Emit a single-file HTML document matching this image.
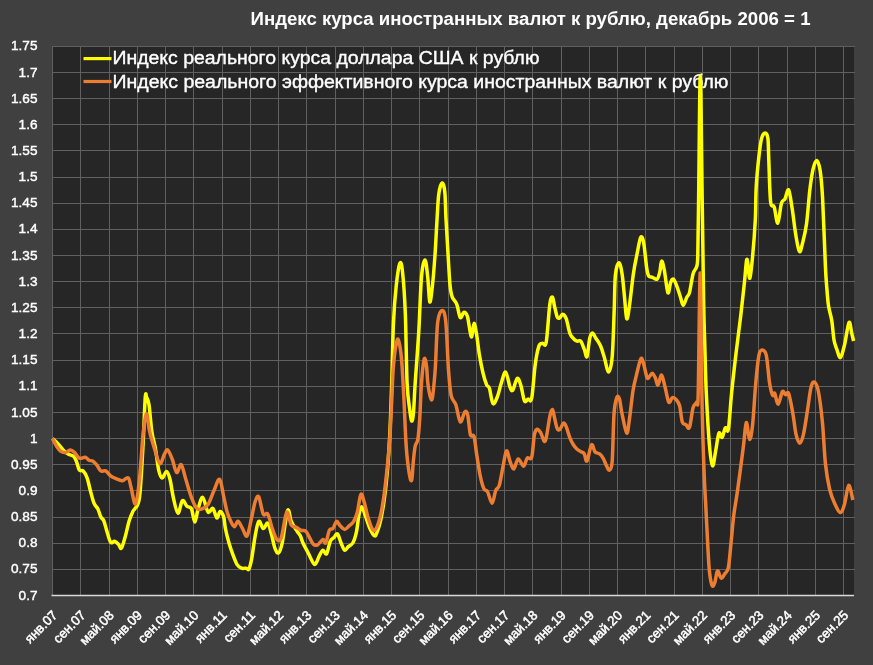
<!DOCTYPE html>
<html><head><meta charset="utf-8"><style>
html,body{margin:0;padding:0;background:#404040;}
svg{display:block;will-change:transform;}
text{font-family:"Liberation Sans",sans-serif;fill:#ffffff;}
</style></head><body>
<svg width="873" height="665" viewBox="0 0 873 665">
<rect x="0" y="0" width="873" height="665" fill="#404040"/>
<rect x="52" y="46" width="802" height="549" fill="#262626"/>
<g stroke="#606060" stroke-width="1" shape-rendering="crispEdges">
<line x1="52.50" y1="46" x2="52.50" y2="595"/>
<line x1="80.75" y1="46" x2="80.75" y2="595"/>
<line x1="109.00" y1="46" x2="109.00" y2="595"/>
<line x1="137.25" y1="46" x2="137.25" y2="595"/>
<line x1="165.50" y1="46" x2="165.50" y2="595"/>
<line x1="193.75" y1="46" x2="193.75" y2="595"/>
<line x1="222.00" y1="46" x2="222.00" y2="595"/>
<line x1="250.25" y1="46" x2="250.25" y2="595"/>
<line x1="278.50" y1="46" x2="278.50" y2="595"/>
<line x1="306.75" y1="46" x2="306.75" y2="595"/>
<line x1="335.00" y1="46" x2="335.00" y2="595"/>
<line x1="363.25" y1="46" x2="363.25" y2="595"/>
<line x1="391.50" y1="46" x2="391.50" y2="595"/>
<line x1="419.75" y1="46" x2="419.75" y2="595"/>
<line x1="448.00" y1="46" x2="448.00" y2="595"/>
<line x1="476.25" y1="46" x2="476.25" y2="595"/>
<line x1="504.50" y1="46" x2="504.50" y2="595"/>
<line x1="532.75" y1="46" x2="532.75" y2="595"/>
<line x1="561.00" y1="46" x2="561.00" y2="595"/>
<line x1="589.25" y1="46" x2="589.25" y2="595"/>
<line x1="617.50" y1="46" x2="617.50" y2="595"/>
<line x1="645.75" y1="46" x2="645.75" y2="595"/>
<line x1="674.00" y1="46" x2="674.00" y2="595"/>
<line x1="702.25" y1="46" x2="702.25" y2="595"/>
<line x1="730.50" y1="46" x2="730.50" y2="595"/>
<line x1="758.75" y1="46" x2="758.75" y2="595"/>
<line x1="787.00" y1="46" x2="787.00" y2="595"/>
<line x1="815.25" y1="46" x2="815.25" y2="595"/>
<line x1="843.50" y1="46" x2="843.50" y2="595"/>
<line x1="52" y1="46.30" x2="855" y2="46.30"/>
<line x1="52" y1="72.45" x2="855" y2="72.45"/>
<line x1="52" y1="98.60" x2="855" y2="98.60"/>
<line x1="52" y1="124.75" x2="855" y2="124.75"/>
<line x1="52" y1="150.90" x2="855" y2="150.90"/>
<line x1="52" y1="177.05" x2="855" y2="177.05"/>
<line x1="52" y1="203.20" x2="855" y2="203.20"/>
<line x1="52" y1="229.35" x2="855" y2="229.35"/>
<line x1="52" y1="255.50" x2="855" y2="255.50"/>
<line x1="52" y1="281.65" x2="855" y2="281.65"/>
<line x1="52" y1="307.80" x2="855" y2="307.80"/>
<line x1="52" y1="333.95" x2="855" y2="333.95"/>
<line x1="52" y1="360.10" x2="855" y2="360.10"/>
<line x1="52" y1="386.25" x2="855" y2="386.25"/>
<line x1="52" y1="412.40" x2="855" y2="412.40"/>
<line x1="52" y1="438.55" x2="855" y2="438.55"/>
<line x1="52" y1="464.70" x2="855" y2="464.70"/>
<line x1="52" y1="490.85" x2="855" y2="490.85"/>
<line x1="52" y1="517.00" x2="855" y2="517.00"/>
<line x1="52" y1="543.15" x2="855" y2="543.15"/>
<line x1="52" y1="569.30" x2="855" y2="569.30"/>
</g>
<line x1="51.5" y1="595.5" x2="854" y2="595.5" stroke="#d9d9d9" stroke-width="1.4"/>
<g font-size="13.6" text-anchor="end" stroke="#ffffff" stroke-width="0.4">
<text x="37.5" y="50.40">1.75</text>
<text x="37.5" y="76.55">1.7</text>
<text x="37.5" y="102.70">1.65</text>
<text x="37.5" y="128.85">1.6</text>
<text x="37.5" y="155.00">1.55</text>
<text x="37.5" y="181.15">1.5</text>
<text x="37.5" y="207.30">1.45</text>
<text x="37.5" y="233.45">1.4</text>
<text x="37.5" y="259.60">1.35</text>
<text x="37.5" y="285.75">1.3</text>
<text x="37.5" y="311.90">1.25</text>
<text x="37.5" y="338.05">1.2</text>
<text x="37.5" y="364.20">1.15</text>
<text x="37.5" y="390.35">1.1</text>
<text x="37.5" y="416.50">1.05</text>
<text x="37.5" y="442.65">1</text>
<text x="37.5" y="468.80">0.95</text>
<text x="37.5" y="494.95">0.9</text>
<text x="37.5" y="521.10">0.85</text>
<text x="37.5" y="547.25">0.8</text>
<text x="37.5" y="573.40">0.75</text>
<text x="37.5" y="599.55">0.7</text>
</g>
<g font-size="13.2" text-anchor="end" stroke="#ffffff" stroke-width="0.5">
<text transform="translate(58.20,616) rotate(-45)" x="0" y="0">янв.07</text>
<text transform="translate(86.45,616) rotate(-45)" x="0" y="0">сен.07</text>
<text transform="translate(114.70,616) rotate(-45)" x="0" y="0">май.08</text>
<text transform="translate(142.95,616) rotate(-45)" x="0" y="0">янв.09</text>
<text transform="translate(171.20,616) rotate(-45)" x="0" y="0">сен.09</text>
<text transform="translate(199.45,616) rotate(-45)" x="0" y="0">май.10</text>
<text transform="translate(227.70,616) rotate(-45)" x="0" y="0">янв.11</text>
<text transform="translate(255.95,616) rotate(-45)" x="0" y="0">сен.11</text>
<text transform="translate(284.20,616) rotate(-45)" x="0" y="0">май.12</text>
<text transform="translate(312.45,616) rotate(-45)" x="0" y="0">янв.13</text>
<text transform="translate(340.70,616) rotate(-45)" x="0" y="0">сен.13</text>
<text transform="translate(368.95,616) rotate(-45)" x="0" y="0">май.14</text>
<text transform="translate(397.20,616) rotate(-45)" x="0" y="0">янв.15</text>
<text transform="translate(425.45,616) rotate(-45)" x="0" y="0">сен.15</text>
<text transform="translate(453.70,616) rotate(-45)" x="0" y="0">май.16</text>
<text transform="translate(481.95,616) rotate(-45)" x="0" y="0">янв.17</text>
<text transform="translate(510.20,616) rotate(-45)" x="0" y="0">сен.17</text>
<text transform="translate(538.45,616) rotate(-45)" x="0" y="0">май.18</text>
<text transform="translate(566.70,616) rotate(-45)" x="0" y="0">янв.19</text>
<text transform="translate(594.95,616) rotate(-45)" x="0" y="0">сен.19</text>
<text transform="translate(623.20,616) rotate(-45)" x="0" y="0">май.20</text>
<text transform="translate(651.45,616) rotate(-45)" x="0" y="0">янв.21</text>
<text transform="translate(679.70,616) rotate(-45)" x="0" y="0">сен.21</text>
<text transform="translate(707.95,616) rotate(-45)" x="0" y="0">май.22</text>
<text transform="translate(736.20,616) rotate(-45)" x="0" y="0">янв.23</text>
<text transform="translate(764.45,616) rotate(-45)" x="0" y="0">сен.23</text>
<text transform="translate(792.70,616) rotate(-45)" x="0" y="0">май.24</text>
<text transform="translate(820.95,616) rotate(-45)" x="0" y="0">янв.25</text>
<text transform="translate(849.20,616) rotate(-45)" x="0" y="0">сен.25</text>
</g>
<text x="250.5" y="25" font-size="18.8" font-weight="bold" textLength="560" lengthAdjust="spacingAndGlyphs">Индекс курса иностранных валют к рублю, декабрь 2006 = 1</text>
<line x1="83.5" y1="58.6" x2="111.5" y2="58.6" stroke="#ffff00" stroke-width="3.2"/>
<line x1="83.5" y1="81.5" x2="111.5" y2="81.5" stroke="#ed7d31" stroke-width="3.2"/>
<g font-size="18" stroke="#ffffff" stroke-width="0.35">
<text x="112.5" y="63.8" textLength="427" lengthAdjust="spacingAndGlyphs">Индекс реального курса доллара США к рублю</text>
<text x="112.5" y="87.5" textLength="616" lengthAdjust="spacingAndGlyphs">Индекс реального эффективного курса иностранных валют к рублю</text>
</g>
<path d="M52.50,438.40 C53.55,439.43 56.93,442.60 58.80,444.60 C60.67,446.60 62.07,448.78 63.70,450.40 C65.33,452.02 66.97,453.32 68.60,454.30 C70.23,455.28 72.20,455.15 73.50,456.30 C74.80,457.45 75.43,458.92 76.40,461.20 C77.37,463.48 78.17,468.37 79.30,470.00 C80.43,471.63 81.90,469.70 83.20,471.00 C84.50,472.30 85.95,474.72 87.10,477.80 C88.25,480.88 88.95,485.27 90.10,489.50 C91.25,493.73 92.70,499.95 94.00,503.20 C95.30,506.45 96.77,506.72 97.90,509.00 C99.03,511.28 99.82,514.93 100.80,516.90 C101.78,518.87 102.82,518.52 103.80,520.80 C104.78,523.08 105.57,527.02 106.70,530.60 C107.83,534.18 109.30,540.52 110.60,542.30 C111.90,544.08 113.20,540.97 114.50,541.30 C115.80,541.63 117.25,543.15 118.40,544.30 C119.55,545.45 120.25,549.52 121.40,548.20 C122.55,546.88 124.00,540.97 125.30,536.40 C126.60,531.83 127.90,525.03 129.20,520.80 C130.50,516.57 132.13,513.03 133.10,511.00 C134.07,508.97 133.93,510.88 135.00,508.60 C136.07,506.32 138.18,507.45 139.50,497.30 C140.82,487.15 141.95,464.25 142.90,447.70 C143.85,431.15 144.57,406.37 145.20,398.00 C145.83,389.63 146.07,396.37 146.70,397.50 C147.33,398.63 148.13,399.07 149.00,404.80 C149.87,410.53 150.85,424.75 151.90,431.90 C152.95,439.05 154.17,441.32 155.30,447.70 C156.43,454.08 157.57,465.13 158.70,470.20 C159.83,475.27 160.78,477.90 162.10,478.10 C163.42,478.30 165.28,471.20 166.60,471.40 C167.92,471.60 168.88,474.98 170.00,479.30 C171.12,483.62 171.98,491.67 173.30,497.30 C174.62,502.93 176.38,512.53 177.90,513.10 C179.42,513.67 180.90,501.83 182.40,500.70 C183.90,499.57 185.40,504.98 186.90,506.30 C188.40,507.62 190.08,505.97 191.40,508.60 C192.72,511.23 193.67,522.10 194.80,522.10 C195.93,522.10 196.88,512.73 198.20,508.60 C199.52,504.47 201.07,496.73 202.70,497.30 C204.33,497.87 206.30,510.13 208.00,512.00 C209.70,513.87 211.42,507.50 212.90,508.50 C214.38,509.50 215.70,517.50 216.90,518.00 C218.10,518.50 218.97,511.67 220.10,511.50 C221.23,511.33 222.82,514.17 223.70,517.00 C224.58,519.83 224.52,524.17 225.40,528.50 C226.28,532.83 227.80,538.78 229.00,543.00 C230.20,547.22 231.25,550.20 232.60,553.80 C233.95,557.40 235.60,562.20 237.10,564.60 C238.60,567.00 240.08,567.60 241.60,568.20 C243.12,568.80 244.98,568.05 246.20,568.20 C247.42,568.35 248.00,570.60 248.90,569.10 C249.80,567.60 250.55,564.75 251.60,559.20 C252.65,553.65 254.00,542.12 255.20,535.80 C256.40,529.48 257.45,522.52 258.80,521.30 C260.15,520.08 261.80,528.20 263.30,528.50 C264.80,528.80 266.45,522.18 267.80,523.10 C269.15,524.02 270.20,529.78 271.40,534.00 C272.60,538.22 273.80,545.25 275.00,548.40 C276.20,551.55 277.40,553.80 278.60,552.90 C279.80,552.00 280.70,550.07 282.20,543.00 C283.70,535.93 286.10,514.12 287.60,510.50 C289.10,506.88 289.83,518.15 291.20,521.30 C292.57,524.45 294.28,526.98 295.80,529.40 C297.32,531.82 299.10,533.53 300.30,535.80 C301.50,538.07 301.62,540.00 303.00,543.00 C304.38,546.00 306.92,550.50 308.60,553.80 C310.28,557.10 311.90,561.15 313.10,562.80 C314.30,564.45 314.75,564.90 315.80,563.70 C316.85,562.50 318.20,557.85 319.40,555.60 C320.60,553.35 321.80,550.50 323.00,550.20 C324.20,549.90 325.38,555.30 326.60,553.80 C327.82,552.30 329.08,543.90 330.30,541.20 C331.52,538.50 332.70,538.80 333.90,537.60 C335.10,536.40 336.30,533.10 337.50,534.00 C338.70,534.90 339.90,540.30 341.10,543.00 C342.30,545.70 343.50,549.60 344.70,550.20 C345.90,550.80 346.95,547.80 348.30,546.60 C349.65,545.40 351.45,545.42 352.80,543.00 C354.15,540.58 355.35,536.92 356.40,532.10 C357.45,527.28 358.20,518.30 359.10,514.10 C360.00,509.90 360.75,506.60 361.80,506.90 C362.85,507.20 364.05,512.30 365.40,515.90 C366.75,519.50 368.40,525.18 369.90,528.50 C371.40,531.82 373.20,535.20 374.40,535.80 C375.60,536.40 376.03,534.82 377.10,532.10 C378.17,529.38 379.62,524.85 380.80,519.50 C381.98,514.15 383.08,508.25 384.20,500.00 C385.32,491.75 386.53,481.67 387.50,470.00 C388.47,458.33 389.30,444.50 390.00,430.00 C390.70,415.50 391.12,400.98 391.70,383.00 C392.28,365.02 392.75,338.25 393.50,322.10 C394.25,305.95 395.15,295.87 396.20,286.10 C397.25,276.33 398.75,265.92 399.80,263.50 C400.85,261.08 401.58,263.33 402.50,271.60 C403.42,279.87 404.53,294.53 405.30,313.10 C406.07,331.67 406.35,366.83 407.10,383.00 C407.85,399.17 409.05,403.78 409.80,410.10 C410.55,416.42 411.00,420.30 411.60,420.90 C412.20,421.50 412.80,420.02 413.40,413.70 C414.00,407.38 414.30,396.75 415.20,383.00 C416.10,369.25 417.75,348.87 418.80,331.20 C419.85,313.53 420.45,288.88 421.50,277.00 C422.55,265.12 424.05,259.73 425.10,259.90 C426.15,260.07 427.02,270.98 427.80,278.00 C428.58,285.02 429.02,300.83 429.80,302.00 C430.58,303.17 431.63,292.83 432.50,285.00 C433.37,277.17 434.25,265.83 435.00,255.00 C435.75,244.17 436.37,230.17 437.00,220.00 C437.63,209.83 437.95,200.17 438.80,194.00 C439.65,187.83 441.10,183.33 442.10,183.00 C443.10,182.67 444.15,186.00 444.80,192.00 C445.45,198.00 445.50,209.33 446.00,219.00 C446.50,228.67 447.13,239.00 447.80,250.00 C448.47,261.00 449.27,277.18 450.00,285.00 C450.73,292.82 451.08,293.72 452.20,296.90 C453.32,300.08 455.35,300.65 456.70,304.10 C458.05,307.55 459.10,316.25 460.30,317.60 C461.50,318.95 462.70,312.35 463.90,312.20 C465.10,312.05 466.27,312.58 467.50,316.70 C468.73,320.82 470.22,335.78 471.30,336.90 C472.38,338.02 473.10,323.70 474.00,323.40 C474.90,323.10 475.80,329.85 476.70,335.10 C477.60,340.35 478.35,348.58 479.40,354.90 C480.45,361.22 481.80,368.03 483.00,373.00 C484.20,377.97 485.53,382.15 486.60,384.70 C487.67,387.25 488.33,385.15 489.40,388.30 C490.47,391.45 491.65,402.25 493.00,403.60 C494.35,404.95 496.15,399.70 497.50,396.40 C498.85,393.10 499.75,387.85 501.10,383.80 C502.45,379.75 504.10,371.50 505.60,372.10 C507.10,372.70 508.90,384.40 510.10,387.40 C511.30,390.40 511.60,391.60 512.80,390.10 C514.00,388.60 515.95,379.15 517.30,378.40 C518.65,377.65 519.70,381.85 520.90,385.60 C522.10,389.35 523.30,398.65 524.50,400.90 C525.70,403.15 526.90,399.55 528.10,399.10 C529.30,398.65 530.50,404.05 531.70,398.20 C532.90,392.35 534.08,372.72 535.30,364.00 C536.52,355.28 537.78,349.37 539.00,345.90 C540.22,342.43 541.40,343.80 542.60,343.20 C543.80,342.60 545.00,348.77 546.20,342.30 C547.40,335.83 548.75,311.92 549.80,304.40 C550.85,296.88 551.72,296.92 552.50,297.20 C553.28,297.48 553.72,302.82 554.50,306.10 C555.28,309.38 556.30,314.95 557.20,316.90 C558.10,318.85 559.00,318.25 559.90,317.80 C560.80,317.35 561.55,314.05 562.60,314.20 C563.65,314.35 565.00,315.55 566.20,318.70 C567.40,321.85 568.60,329.80 569.80,333.10 C571.00,336.40 572.18,337.15 573.40,338.50 C574.62,339.85 575.88,340.75 577.10,341.20 C578.32,341.65 579.50,339.83 580.70,341.20 C581.90,342.57 583.25,346.83 584.30,349.40 C585.35,351.97 586.10,358.42 587.00,356.60 C587.90,354.78 588.80,342.42 589.70,338.50 C590.60,334.58 591.35,333.10 592.40,333.10 C593.45,333.10 594.65,336.38 596.00,338.50 C597.35,340.62 599.15,342.78 600.50,345.80 C601.85,348.82 602.75,352.25 604.10,356.60 C605.45,360.95 607.25,371.90 608.60,371.90 C609.95,371.90 611.27,366.92 612.20,356.60 C613.13,346.28 613.67,323.60 614.20,310.00 C614.73,296.40 614.60,282.88 615.40,275.00 C616.20,267.12 617.88,262.85 619.00,262.70 C620.12,262.55 621.18,268.38 622.10,274.10 C623.02,279.82 623.73,289.57 624.50,297.00 C625.27,304.43 625.88,317.18 626.70,318.70 C627.52,320.22 628.27,313.73 629.40,306.10 C630.53,298.47 632.22,281.63 633.50,272.90 C634.78,264.17 635.90,259.62 637.10,253.70 C638.30,247.78 639.60,239.22 640.70,237.40 C641.80,235.58 642.70,237.68 643.70,242.80 C644.70,247.92 645.87,262.57 646.70,268.10 C647.53,273.63 647.73,274.47 648.70,276.00 C649.67,277.53 651.10,276.78 652.50,277.30 C653.90,277.82 655.88,280.00 657.10,279.10 C658.32,278.20 659.05,274.90 659.80,271.90 C660.55,268.90 660.85,261.40 661.60,261.10 C662.35,260.80 663.25,264.85 664.30,270.10 C665.35,275.35 666.85,290.50 667.90,292.60 C668.95,294.70 669.70,284.95 670.60,282.70 C671.50,280.45 672.25,278.50 673.30,279.10 C674.35,279.70 675.70,283.28 676.90,286.30 C678.10,289.32 679.45,294.03 680.50,297.20 C681.55,300.37 682.15,305.30 683.20,305.30 C684.25,305.30 685.75,299.32 686.80,297.20 C687.85,295.08 688.45,296.52 689.50,292.60 C690.55,288.68 691.90,278.05 693.10,273.70 C694.30,269.35 695.92,269.62 696.70,266.50 C697.48,263.38 697.48,266.08 697.80,255.00 C698.12,243.92 698.18,229.83 698.60,200.00 C699.02,170.17 699.70,76.00 700.30,76.00 C700.90,76.00 701.65,162.67 702.20,200.00 C702.75,237.33 703.17,275.83 703.60,300.00 C704.03,324.17 704.35,329.47 704.80,345.00 C705.25,360.53 705.52,376.40 706.30,393.20 C707.08,410.00 708.45,433.70 709.50,445.80 C710.55,457.90 711.55,465.10 712.60,465.80 C713.65,466.50 714.75,455.43 715.80,450.00 C716.85,444.57 717.85,435.30 718.90,433.20 C719.95,431.10 721.03,438.28 722.10,437.40 C723.17,436.52 724.25,429.30 725.30,427.90 C726.35,426.50 727.35,434.78 728.40,429.00 C729.45,423.22 730.37,405.48 731.60,393.20 C732.83,380.92 734.27,368.30 735.80,355.30 C737.33,342.30 739.37,327.30 740.80,315.20 C742.23,303.10 743.43,291.87 744.40,282.70 C745.37,273.53 746.00,263.20 746.60,260.20 C747.20,257.20 747.47,261.70 748.00,264.70 C748.53,267.70 749.05,279.40 749.80,278.20 C750.55,277.00 751.58,267.20 752.50,257.50 C753.42,247.80 754.68,231.73 755.30,220.00 C755.92,208.27 755.60,197.68 756.20,187.10 C756.80,176.52 758.00,164.62 758.90,156.50 C759.80,148.38 760.55,142.32 761.60,138.40 C762.65,134.48 764.15,133.00 765.20,133.00 C766.25,133.00 767.30,133.88 767.90,138.40 C768.50,142.92 768.35,149.57 768.80,160.10 C769.25,170.63 769.70,193.78 770.60,201.60 C771.50,209.42 773.00,203.40 774.20,207.00 C775.40,210.60 776.60,223.80 777.80,223.20 C779.00,222.60 780.20,207.45 781.40,203.40 C782.60,199.35 783.80,201.15 785.00,198.90 C786.20,196.65 787.40,188.25 788.60,189.90 C789.80,191.55 791.00,201.28 792.20,208.80 C793.40,216.32 794.60,227.88 795.80,235.00 C797.00,242.12 798.28,250.12 799.40,251.50 C800.52,252.88 801.32,247.88 802.50,243.30 C803.68,238.72 805.28,232.85 806.50,224.00 C807.72,215.15 808.72,199.32 809.80,190.20 C810.88,181.08 811.85,174.25 813.00,169.30 C814.15,164.35 815.50,160.23 816.70,160.50 C817.90,160.77 819.22,164.60 820.20,170.90 C821.18,177.20 821.73,182.43 822.60,198.30 C823.47,214.17 824.67,250.78 825.40,266.10 C826.13,281.42 826.47,283.50 827.00,290.20 C827.53,296.90 827.80,301.20 828.60,306.30 C829.40,311.40 830.90,315.18 831.80,320.80 C832.70,326.42 833.18,335.30 834.00,340.00 C834.82,344.70 835.62,346.08 836.70,349.00 C837.78,351.92 839.17,358.32 840.50,357.50 C841.83,356.68 843.28,349.95 844.70,344.10 C846.12,338.25 847.80,324.08 849.00,322.40 C850.20,320.72 851.13,330.90 851.90,334.00 C852.67,337.10 853.32,339.83 853.60,341.00" fill="none" stroke="#ffff00" stroke-width="3.5" stroke-linejoin="round" stroke-linecap="butt"/>
<path d="M52.50,438.40 C53.22,439.75 55.42,444.33 56.80,446.50 C58.18,448.67 59.33,450.42 60.80,451.40 C62.27,452.38 63.98,452.63 65.60,452.40 C67.22,452.17 69.03,450.00 70.50,450.00 C71.97,450.00 72.93,451.03 74.40,452.40 C75.87,453.77 77.50,457.38 79.30,458.20 C81.10,459.02 83.57,456.97 85.20,457.30 C86.83,457.63 87.80,459.55 89.10,460.20 C90.40,460.85 91.70,460.38 93.00,461.20 C94.30,462.02 95.60,463.48 96.90,465.10 C98.20,466.72 99.33,469.93 100.80,470.90 C102.27,471.87 104.07,470.08 105.70,470.90 C107.33,471.72 108.80,474.48 110.60,475.80 C112.40,477.12 114.55,477.98 116.50,478.80 C118.45,479.62 120.35,480.87 122.30,480.70 C124.25,480.53 126.73,476.65 128.20,477.80 C129.67,478.95 129.88,483.23 131.10,487.60 C132.32,491.97 134.10,505.38 135.50,504.00 C136.90,502.62 138.27,490.57 139.50,479.30 C140.73,468.03 141.77,447.32 142.90,436.40 C144.03,425.48 145.17,414.55 146.30,413.80 C147.43,413.05 148.38,426.25 149.70,431.90 C151.02,437.55 152.52,442.43 154.20,447.70 C155.88,452.97 158.12,462.38 159.80,463.50 C161.48,464.62 162.98,456.67 164.30,454.40 C165.62,452.13 166.38,449.13 167.70,449.90 C169.02,450.67 170.70,455.23 172.20,459.00 C173.70,462.77 175.20,471.57 176.70,472.50 C178.20,473.43 179.68,463.47 181.20,464.60 C182.72,465.73 184.10,473.85 185.80,479.30 C187.50,484.75 189.53,492.42 191.40,497.30 C193.27,502.18 195.12,506.72 197.00,508.60 C198.88,510.48 200.82,509.35 202.70,508.60 C204.58,507.85 206.42,507.12 208.30,504.10 C210.18,501.08 212.12,494.63 214.00,490.50 C215.88,486.37 218.00,478.37 219.60,479.30 C221.20,480.23 222.33,490.60 223.60,496.10 C224.87,501.60 226.00,508.10 227.20,512.30 C228.40,516.50 229.60,518.90 230.80,521.30 C232.00,523.70 233.20,526.70 234.40,526.70 C235.60,526.70 236.65,521.00 238.00,521.30 C239.35,521.60 240.98,526.08 242.50,528.50 C244.02,530.92 245.58,537.60 247.10,535.80 C248.62,534.00 250.25,523.42 251.60,517.70 C252.95,511.98 254.00,504.95 255.20,501.50 C256.40,498.05 257.45,494.90 258.80,497.00 C260.15,499.10 261.80,511.25 263.30,514.10 C264.80,516.95 266.30,511.70 267.80,514.10 C269.30,516.50 270.80,524.28 272.30,528.50 C273.80,532.72 275.30,537.88 276.80,539.40 C278.30,540.92 279.65,542.12 281.30,537.60 C282.95,533.08 285.05,514.42 286.70,512.30 C288.35,510.18 289.53,522.35 291.20,524.90 C292.87,527.45 295.03,526.70 296.70,527.60 C298.37,528.50 299.70,529.70 301.20,530.30 C302.70,530.90 304.47,530.28 305.70,531.20 C306.93,532.12 307.37,533.68 308.60,535.80 C309.83,537.92 311.60,542.40 313.10,543.90 C314.60,545.40 315.95,545.55 317.60,544.80 C319.25,544.05 321.65,539.70 323.00,539.40 C324.35,539.10 324.63,544.52 325.70,543.00 C326.77,541.48 328.18,532.72 329.40,530.30 C330.62,527.88 331.80,530.00 333.00,528.50 C334.20,527.00 335.40,521.75 336.60,521.30 C337.80,520.85 338.85,524.45 340.20,525.80 C341.55,527.15 343.20,529.40 344.70,529.40 C346.20,529.40 347.70,527.15 349.20,525.80 C350.70,524.45 352.35,523.55 353.70,521.30 C355.05,519.05 356.10,516.80 357.30,512.30 C358.50,507.80 359.70,495.80 360.90,494.30 C362.10,492.80 363.30,499.40 364.50,503.30 C365.70,507.20 366.75,513.35 368.10,517.70 C369.45,522.05 371.25,527.60 372.60,529.40 C373.95,531.20 374.83,531.05 376.20,528.50 C377.57,525.95 379.43,520.10 380.80,514.10 C382.17,508.10 383.20,501.52 384.40,492.50 C385.60,483.48 387.08,469.22 388.00,460.00 C388.92,450.78 389.28,447.02 389.90,437.20 C390.52,427.38 391.10,413.13 391.70,401.10 C392.30,389.07 392.60,375.15 393.50,365.00 C394.40,354.85 396.05,343.43 397.10,340.20 C398.15,336.97 398.98,341.47 399.80,345.60 C400.62,349.73 401.30,355.77 402.00,365.00 C402.70,374.23 403.30,387.47 404.00,401.00 C404.70,414.53 405.38,434.47 406.20,446.20 C407.02,457.93 408.00,465.70 408.90,471.40 C409.80,477.10 410.85,482.20 411.60,480.40 C412.35,478.60 412.80,466.30 413.40,460.60 C414.00,454.90 414.45,449.80 415.20,446.20 C415.95,442.60 417.15,443.52 417.90,439.00 C418.65,434.48 419.10,428.43 419.70,419.10 C420.30,409.77 420.75,393.00 421.50,383.00 C422.25,373.00 423.37,361.93 424.20,359.10 C425.03,356.27 425.90,362.02 426.50,366.00 C427.10,369.98 427.13,377.75 427.80,383.00 C428.47,388.25 429.75,394.93 430.50,397.50 C431.25,400.07 431.70,400.82 432.30,398.40 C432.90,395.98 433.57,388.57 434.10,383.00 C434.63,377.43 434.90,375.15 435.50,365.00 C436.10,354.85 436.58,331.20 437.70,322.10 C438.82,313.00 440.85,310.40 442.20,310.40 C443.55,310.40 444.75,312.17 445.80,322.10 C446.85,332.03 447.60,357.73 448.50,370.00 C449.40,382.27 449.98,389.92 451.20,395.70 C452.42,401.48 454.28,400.35 455.80,404.70 C457.32,409.05 458.80,420.60 460.30,421.80 C461.80,423.00 463.57,413.07 464.80,411.90 C466.03,410.73 466.77,411.00 467.70,414.80 C468.63,418.60 469.35,431.08 470.40,434.70 C471.45,438.32 472.95,433.20 474.00,436.50 C475.05,439.80 475.65,447.88 476.70,454.50 C477.75,461.12 479.10,470.48 480.30,476.20 C481.50,481.92 482.70,486.25 483.90,488.80 C485.10,491.35 486.13,489.10 487.50,491.50 C488.87,493.90 490.73,503.35 492.10,503.20 C493.47,503.05 494.50,493.60 495.70,490.60 C496.90,487.60 498.10,489.10 499.30,485.20 C500.50,481.30 501.70,472.92 502.90,467.20 C504.10,461.48 505.30,451.82 506.50,450.90 C507.70,449.98 508.90,458.68 510.10,461.70 C511.30,464.72 512.35,469.45 513.70,469.00 C515.05,468.55 516.55,459.47 518.20,459.00 C519.85,458.53 522.10,466.35 523.60,466.20 C525.10,466.05 525.85,459.60 527.20,458.10 C528.55,456.60 530.50,461.10 531.70,457.20 C532.90,453.30 533.48,439.35 534.40,434.70 C535.32,430.05 536.13,429.60 537.20,429.30 C538.27,429.00 539.45,430.95 540.80,432.90 C542.15,434.85 543.80,443.72 545.30,441.00 C546.80,438.28 548.60,421.87 549.80,416.60 C551.00,411.33 551.72,409.22 552.50,409.40 C553.28,409.58 553.72,414.52 554.50,417.70 C555.28,420.88 556.30,426.55 557.20,428.50 C558.10,430.45 558.85,430.30 559.90,429.40 C560.95,428.50 562.45,423.55 563.50,423.10 C564.55,422.65 565.15,424.28 566.20,426.70 C567.25,429.12 568.60,434.58 569.80,437.60 C571.00,440.62 572.18,442.85 573.40,444.80 C574.62,446.75 575.73,448.10 577.10,449.30 C578.47,450.50 580.40,451.25 581.60,452.00 C582.80,452.75 583.40,452.30 584.30,453.80 C585.20,455.30 585.80,462.50 587.00,461.00 C588.20,459.50 590.15,446.30 591.50,444.80 C592.85,443.30 593.75,450.50 595.10,452.00 C596.45,453.50 598.25,452.75 599.60,453.80 C600.95,454.85 602.00,456.20 603.20,458.30 C604.40,460.40 605.75,464.45 606.80,466.40 C607.85,468.35 608.60,470.90 609.50,470.00 C610.40,469.10 611.45,470.32 612.20,461.00 C612.95,451.68 613.25,424.62 614.00,414.10 C614.75,403.58 615.80,400.45 616.70,397.90 C617.60,395.35 618.50,396.10 619.40,398.80 C620.30,401.50 620.88,408.38 622.10,414.10 C623.32,419.82 625.48,432.20 626.70,433.10 C627.92,434.00 628.35,426.57 629.40,419.50 C630.45,412.43 631.80,398.22 633.00,390.70 C634.20,383.18 635.30,379.70 636.60,374.40 C637.90,369.10 639.65,360.73 640.80,358.90 C641.95,357.07 642.45,360.25 643.50,363.40 C644.55,366.55 646.05,375.70 647.10,377.80 C648.15,379.90 648.90,376.75 649.80,376.00 C650.70,375.25 651.58,373.00 652.50,373.30 C653.42,373.60 654.38,375.85 655.30,377.80 C656.22,379.75 656.95,385.45 658.00,385.00 C659.05,384.55 660.40,374.65 661.60,375.10 C662.80,375.55 664.00,383.18 665.20,387.70 C666.40,392.22 667.60,400.55 668.80,402.20 C670.00,403.85 671.20,398.07 672.40,397.60 C673.60,397.13 674.80,398.03 676.00,399.40 C677.20,400.77 678.55,402.03 679.60,405.80 C680.65,409.57 681.25,418.85 682.30,422.00 C683.35,425.15 684.70,423.80 685.90,424.70 C687.10,425.60 688.30,430.25 689.50,427.40 C690.70,424.55 691.90,411.80 693.10,407.60 C694.30,403.40 695.85,404.62 696.70,402.20 C697.55,399.78 697.62,414.63 698.20,393.10 C698.78,371.57 699.57,271.85 700.20,273.00 C700.83,274.15 701.37,367.17 702.00,400.00 C702.63,432.83 703.37,452.32 704.00,470.00 C704.63,487.68 705.20,494.08 705.80,506.10 C706.40,518.12 707.00,531.28 707.60,542.10 C708.20,552.92 708.65,563.78 709.40,571.00 C710.15,578.22 711.20,583.45 712.10,585.40 C713.00,587.35 713.90,585.10 714.80,582.70 C715.70,580.30 716.43,571.75 717.50,571.00 C718.57,570.25 719.98,577.75 721.20,578.20 C722.42,578.65 723.60,575.50 724.80,573.70 C726.00,571.90 727.35,572.67 728.40,567.40 C729.45,562.13 730.20,550.82 731.10,542.10 C732.00,533.38 732.75,523.52 733.80,515.10 C734.85,506.68 735.83,502.80 737.40,491.60 C738.97,480.40 741.72,459.40 743.20,447.90 C744.68,436.40 745.25,424.00 746.30,422.60 C747.35,421.20 748.45,439.15 749.50,439.50 C750.55,439.85 751.55,434.18 752.60,424.70 C753.65,415.22 754.75,394.17 755.80,382.60 C756.85,371.03 757.85,360.73 758.90,355.30 C759.95,349.87 760.87,350.00 762.10,350.00 C763.33,350.00 765.07,349.87 766.30,355.30 C767.53,360.73 768.45,375.93 769.50,382.60 C770.55,389.27 771.73,393.53 772.60,395.30 C773.47,397.07 773.77,391.72 774.70,393.20 C775.63,394.68 776.92,404.47 778.20,404.20 C779.48,403.93 781.18,393.18 782.40,391.60 C783.62,390.02 784.45,394.35 785.50,394.70 C786.55,395.05 787.47,390.53 788.70,393.70 C789.93,396.87 791.67,406.87 792.90,413.70 C794.13,420.53 794.95,429.78 796.10,434.70 C797.25,439.62 798.58,443.20 799.80,443.20 C801.02,443.20 802.10,440.32 803.40,434.70 C804.70,429.08 806.37,417.22 807.60,409.50 C808.83,401.78 809.73,392.98 810.80,388.40 C811.87,383.82 812.77,381.65 814.00,382.00 C815.23,382.35 816.80,383.82 818.20,390.50 C819.60,397.18 821.18,409.82 822.40,422.10 C823.62,434.38 824.28,452.97 825.50,464.20 C826.72,475.43 828.12,482.83 829.70,489.50 C831.28,496.17 833.23,500.35 835.00,504.20 C836.77,508.05 838.72,512.60 840.30,512.60 C841.88,512.60 843.10,508.75 844.50,504.20 C845.90,499.65 847.30,486.00 848.70,485.30 C850.10,484.60 852.20,497.55 852.90,500.00" fill="none" stroke="#ed7d31" stroke-width="3.5" stroke-linejoin="round" stroke-linecap="butt"/>
</svg>
</body></html>
